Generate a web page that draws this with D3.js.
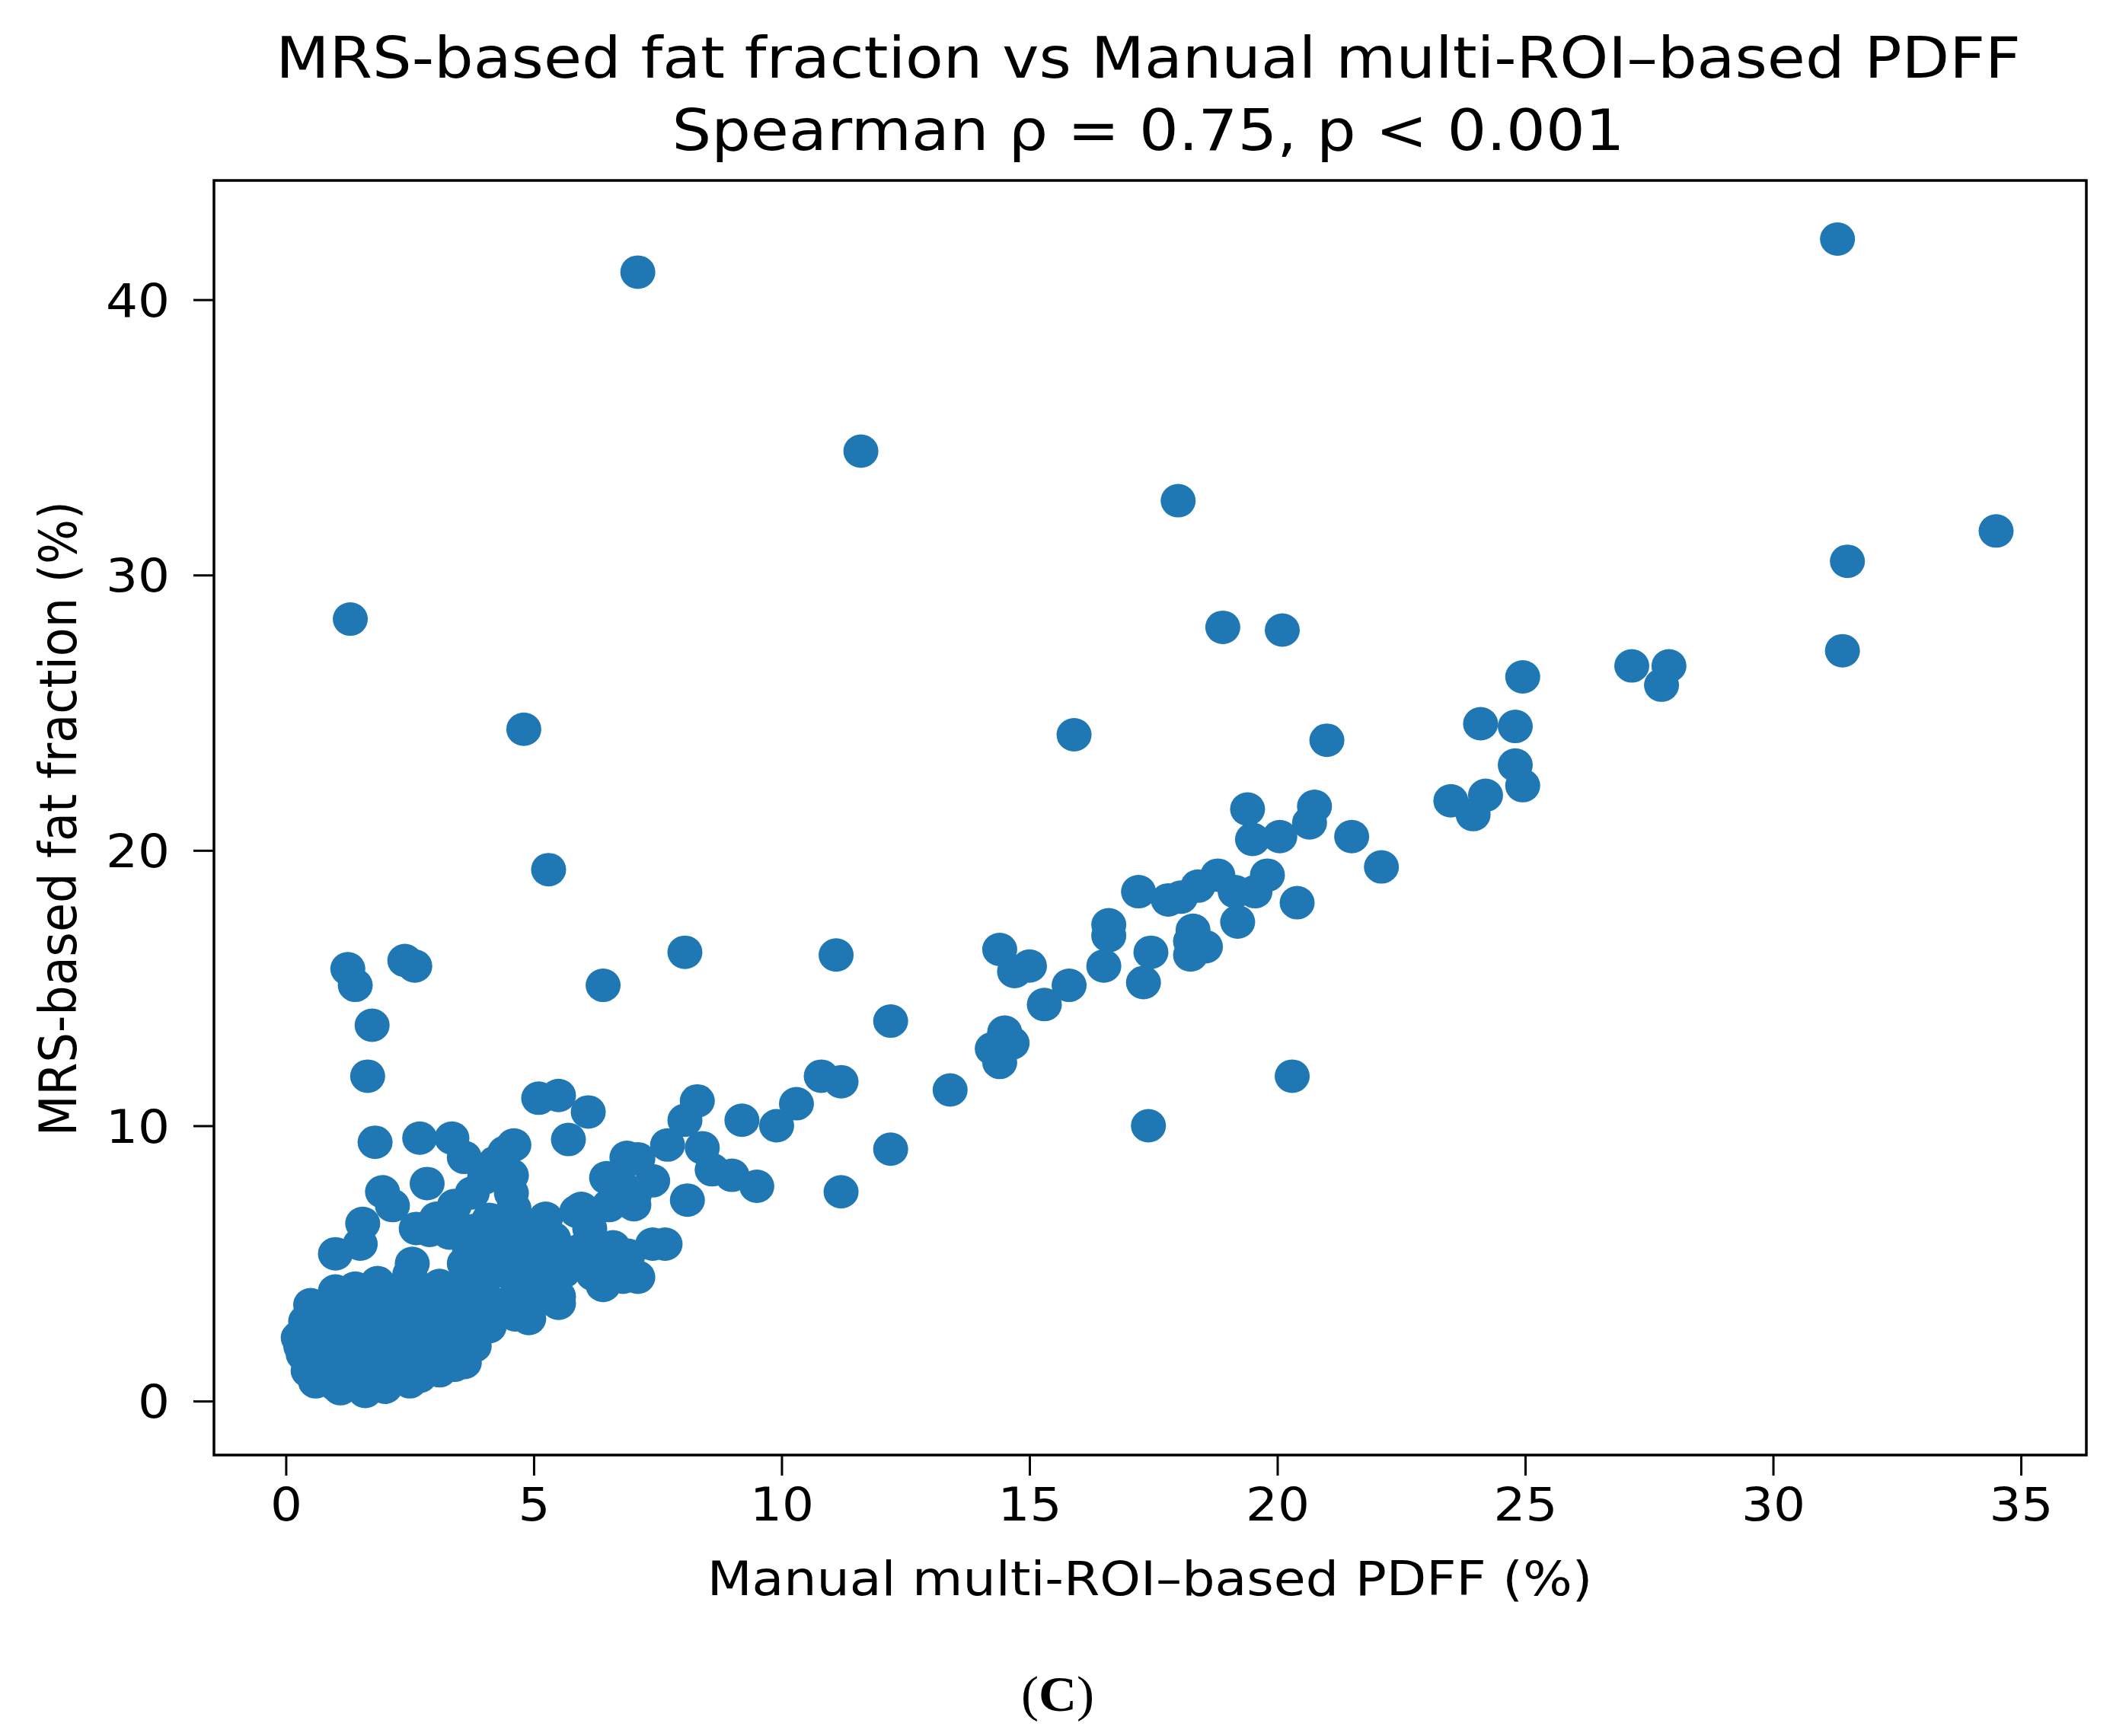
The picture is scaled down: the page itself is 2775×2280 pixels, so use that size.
<!DOCTYPE html>
<html lang="en">
<head>
<meta charset="utf-8">
<title>MRS-based fat fraction vs Manual multi-ROI-based PDFF</title>
<style>
  body { margin: 0; background: #fff; }
  text { font-family: "DejaVu Sans", sans-serif; fill: #000; }
</style>
</head>
<body>
<div id="chart"></div>

<script src="https://cdnjs.cloudflare.com/ajax/libs/d3/7.8.5/d3.min.js"></script>
<script>
// values: [manual multi-ROI PDFF %, MRS fat fraction %]
var coreCluster = [
  [1.1,0.45],[1.6,0.35],[2.0,0.5],[2.5,0.7],[0.6,0.7],
  [0.45,1.1],[0.9,0.9],[1.3,1.0],[1.8,0.8],[2.2,1.1],[2.7,0.9],[3.1,1.1],[3.6,1.4],
  [0.35,1.7],[0.7,1.5],[1.1,1.6],[1.5,1.4],[1.9,1.7],[2.4,1.5],[2.8,1.6],[3.3,1.7],[3.8,2.0],
  [0.25,2.3],[0.6,2.1],[1.0,2.2],[1.4,2.3],[1.8,2.1],[2.2,2.4],[2.6,2.2],[3.0,2.3],[3.5,2.5],[4.1,2.7],
  [0.4,2.9],[0.8,2.7],[1.2,3.0],[1.6,2.8],[2.0,3.0],[2.4,2.9],[2.9,3.0],[3.3,2.8],[3.7,3.1],
  [0.5,3.5],[0.9,3.3],[1.3,3.6],[1.7,3.4],[2.1,3.6],[2.6,3.5],[3.0,3.7],[3.5,3.5],[3.9,3.8],
  [1.0,4.0],[1.4,4.1],[1.85,4.3],[2.5,4.2],[3.1,4.2],[3.6,4.4],
  [0.8,1.2],[1.2,1.3],[1.4,0.7],[2.3,0.9],[0.5,2.5],[1.1,2.6],[1.7,2.5],[2.1,2.0],[2.7,2.6],
  [3.2,2.0],[0.7,3.1],[1.5,3.2],[1.9,2.6],[2.3,3.3],[2.8,3.3],[3.4,3.1],[0.9,1.9],[1.3,1.9],
  [1.6,2.0],[2.0,1.3],[2.5,1.9],[2.9,1.3],[3.2,2.6],[3.7,2.4],[1.0,0.6],[1.5,1.1],[0.6,1.3],
  [0.3,2.0],[2.1,0.7],[2.6,1.2],[3.4,1.3],[1.2,3.9],[2.2,3.9],[2.8,4.0],[3.3,3.9]
];
var lowBand = [
  [2.55,5.0],[2.5,4.6],[3.0,4.0],[3.6,5.0],[3.7,5.6],[4.0,4.9],[4.2,5.8],[4.4,5.2],[4.8,5.1],
  [4.9,5.9],[5.3,5.0],[4.3,3.5],[4.7,4.1],[5.0,3.7],[3.8,6.2],[4.1,6.6],[2.9,6.2],[4.9,3.0],
  [5.2,4.3],[5.6,4.7],[5.8,5.4],[5.4,5.9],[3.3,6.1],[4.0,4.4],[4.6,4.5],[4.4,3.3],[4.63,3.13],
  [5.5,3.8],[5.5,3.55],[6.4,4.2],[6.6,5.6],[6.9,5.3],[6.2,4.6],[6.8,4.5]
];
var leftTail = [
  [1.0,5.35],[1.5,5.7],[1.55,6.45],[1.95,7.6],[2.15,7.1],[2.85,7.9],[2.63,6.27],[3.04,6.64],
  [3.4,7.1],[3.76,7.56],[4.01,8.11],[4.22,8.66],[4.42,9.04],[4.55,8.2],[4.55,7.55],[4.6,7.0],
  [4.6,6.3],[1.8,9.4],[2.7,9.55],[3.35,9.55],[3.6,8.85],[4.6,9.3],[1.65,11.8],[1.74,13.65],
  [1.25,15.7],[1.4,15.1],[2.4,16.0],[2.6,15.8]
];
var midBand = [
  [5.1,11.0],[5.5,11.1],[6.1,10.5],[5.7,9.5],[6.47,8.11],[6.88,8.85],[5.24,6.64],[5.96,7.0],
  [6.52,7.1],[7.04,7.56],[6.57,5.07],[5.96,5.5],[5.09,4.61],[6.13,6.27],[5.87,6.89],[5.25,5.65],
  [7.02,7.13],[7.65,5.7],[7.4,5.7],[7.1,4.5],
  [8.3,10.9],[8.05,10.2],[8.4,9.2],[7.7,9.3],[7.1,8.8],[6.7,8.1],[7.4,8.0],[8.6,8.4],[9.0,8.2],
  [9.5,7.8],[8.1,7.3],[9.2,10.2],[9.9,10.0],[10.3,10.8],[10.8,11.8],[11.2,11.6],[6.4,15.1],
  [8.05,16.3],[11.1,16.2],[12.2,13.8],[12.2,9.15],[11.2,7.6],[13.4,11.3]
];
var highBand = [
  [14.4,16.4],[15.0,15.8],[14.7,15.6],[15.3,14.4],[15.8,15.1],[16.5,15.8],[16.6,17.3],[16.6,16.9],
  [17.2,18.5],[17.45,16.3],[17.3,15.2],[18.25,16.7],[18.55,16.5],[18.25,16.2],[18.05,18.3],
  [18.4,18.7],[18.8,19.1],[19.2,17.4],[19.8,19.1],[19.55,18.5],[20.4,18.1],[17.8,18.2],
  [14.5,13.4],[14.65,13.0],[14.25,12.8],[14.4,12.3],[19.4,21.5],[19.5,20.4],[20.05,20.5],
  [20.65,21.0],[20.75,21.6],[21.5,20.5],[22.1,19.4],[19.15,18.5],[18.3,17.1],
  [21.0,24.0],[24.1,24.6],[24.8,24.5],[24.8,23.1],[24.95,22.35],[23.5,21.8],[24.2,22.0],
  [23.95,21.3],[24.95,26.3],[27.15,26.7],[27.9,26.7],[27.75,26.0],[31.4,27.25],[31.5,30.5],
  [34.5,31.6]
];
var outliers = [
  [31.3,42.2],[7.1,41.0],[11.6,34.5],[18.0,32.7],[1.3,28.4],[18.9,28.1],[20.1,28.0],
  [4.8,24.4],[15.9,24.2],[5.3,19.3],[20.3,11.8],[17.4,10.0]
];

var xTicks = [0, 5, 10, 15, 20, 25, 30, 35];
var yTicks = [0, 10, 20, 30, 40];

var titleLines = ["MRS-based fat fraction vs Manual multi-ROI\u2013based PDFF",
                  "Spearman \u03c1 = 0.75, p < 0.001"];
var xLabel = "Manual multi-ROI\u2013based PDFF (%)";
var yLabel = "MRS-based fat fraction (%)";

var W = 2775, H = 2280;
var box = {left: 281, right: 2740, top: 237, bottom: 1911};
var stretch = 1.1; // the figure is widened horizontally

var svg = d3.select("#chart").append("svg")
    .attr("width", W)
    .attr("height", H);

svg.append("rect").attr("width", W).attr("height", H).attr("fill", "#fff");

var x = d3.scaleLinear().domain([-1.45, 36.32]).range([box.left, box.right]);
var y = d3.scaleLinear().domain([-1.96, 44.33]).range([box.bottom, box.top]);

var allPoints = coreCluster.concat(lowBand, leftTail, midBand, highBand, outliers);

// points
svg.append("g")
    .selectAll("ellipse")
    .data(allPoints)
    .enter()
    .append("ellipse")
    .attr("cx", function(d){ return x(d[0]); })
    .attr("cy", function(d){ return y(d[1]); })
    .attr("rx", 23)
    .attr("ry", 22)
    .attr("fill", "#1f77b4");

// frame
svg.append("rect")
    .attr("x", box.left)
    .attr("y", box.top)
    .attr("width", box.right - box.left)
    .attr("height", box.bottom - box.top)
    .attr("fill", "none")
    .attr("stroke", "#000")
    .attr("stroke-width", 3.5);

// x axis
var gx = svg.append("g")
    .attr("transform", "translate(0," + box.bottom + ")")
    .call(d3.axisBottom(x).tickValues(xTicks).tickSize(27).tickSizeOuter(0));
gx.attr("font-size", null).attr("font-family", null);
gx.select(".domain").remove();
gx.selectAll("line").attr("stroke-width", 3);
gx.selectAll("text")
    .attr("y", 86)
    .attr("dy", "0")
    .attr("font-size", 60)
    .attr("transform", "scale(" + stretch + ",1)");

// y axis
var gy = svg.append("g")
    .attr("transform", "translate(" + box.left + ",0)")
    .call(d3.axisLeft(y).tickValues(yTicks).tickSize(27).tickSizeOuter(0));
gy.attr("font-size", null).attr("font-family", null);
gy.select(".domain").remove();
gy.selectAll("line").attr("stroke-width", 3);
gy.selectAll("text")
    .attr("x", -58 / stretch)
    .attr("dy", "0.36em")
    .attr("font-size", 60)
    .attr("transform", "scale(" + stretch + ",1)");

// title
svg.selectAll(".title")
    .data(titleLines)
    .enter()
    .append("text")
    .attr("class", "title")
    .attr("text-anchor", "middle")
    .attr("font-size", 74)
    .attr("transform", function(d, i){
        return "translate(1508," + (102 + i * 95) + ") scale(" + stretch + ",1)";
    })
    .text(function(d){ return d; });

// axis labels
svg.append("text")
    .attr("text-anchor", "middle")
    .attr("font-size", 62)
    .attr("transform", "translate(1510,2095) scale(" + stretch + ",1)")
    .text(xLabel);

svg.append("text")
    .attr("text-anchor", "middle")
    .attr("font-size", 62)
    .attr("transform", "translate(100,1075) scale(" + stretch + ",1) rotate(-90)")
    .text(yLabel);

// panel letter
var panel = svg.append("text")
    .attr("text-anchor", "middle")
    .attr("font-size", 66)
    .attr("transform", "translate(1389,2247) scale(1.05,1)")
    .style("font-family", "'Liberation Serif', 'DejaVu Serif', serif");
panel.append("tspan").text("(");
panel.append("tspan").attr("font-weight", "bold").text("C");
panel.append("tspan").text(")");
</script>
</body>
</html>
